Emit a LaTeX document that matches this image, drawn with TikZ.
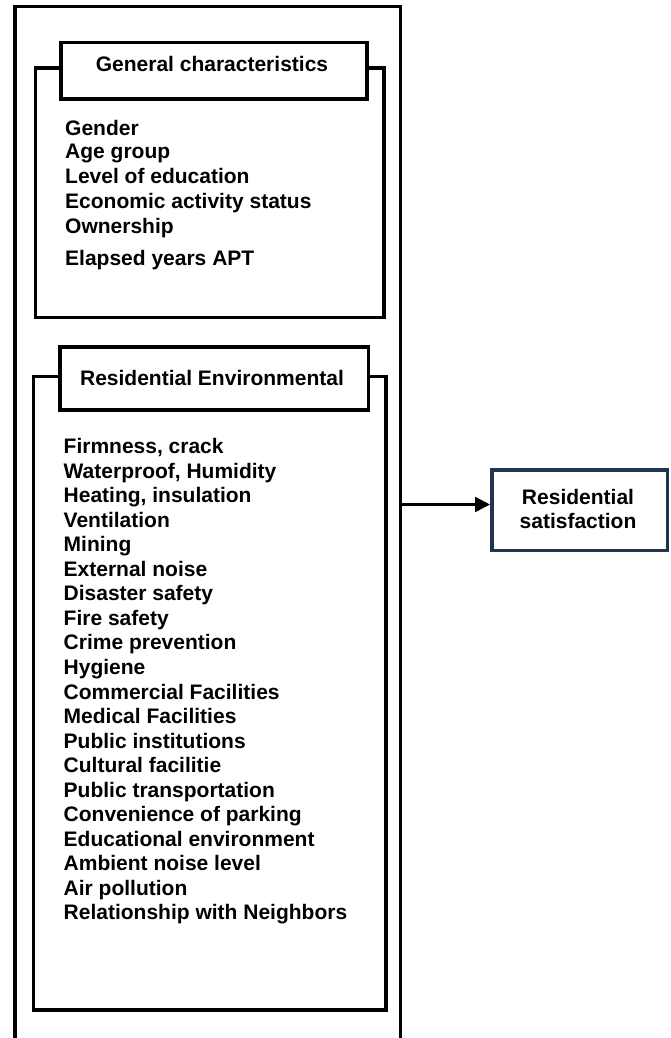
\documentclass[tikz,border=0pt]{standalone}
\usepackage{fontspec}
\setmainfont{Liberation Sans}
\usetikzlibrary{arrows.meta}
\definecolor{navy}{HTML}{1F3550}
\tikzset{
  frame/.style={draw=black, line width=3.5bp},
  titlebox/.style={frame, fill=white, rectangle, inner sep=0pt},
  txt/.style={anchor=base, inner sep=0pt, font=\fontsize{21bp}{24bp}\selectfont\bfseries},
  item/.style={txt, anchor=base west},
  outbox/.style={draw=navy, line width=3.5bp, rectangle, inner sep=0pt, fill=white},
  conn/.style={draw=black, line width=2.5bp, -{Triangle[length=15bp,width=15bp]}}
}
\begin{document}
\begin{tikzpicture}[x=1bp,y=-1bp]
\useasboundingbox (0,0) rectangle (671,1038);
% outer frame (open at bottom)
\draw[frame] (15,1040) -- (15,6.5) -- (400.5,6.5) -- (400.5,1040);
\coordinate (outR) at (400.5,504.5);

% group 1
\node[frame, rectangle, inner sep=0pt, minimum width=348.5bp, minimum height=249.5bp, anchor=north west] (g1) at (33.5,66) {};
\node[titlebox, minimum width=306bp, minimum height=56.5bp, anchor=north west] (t1) at (59,40.5) {};
\node[txt] (t1txt) at (212,71) {General characteristics};
\foreach \t/\y [count=\i] in {Gender/135, Age group/158.5, Level of education/183, Economic activity status/208, Ownership/233, Elapsed years APT/265}
  \node[item] (a\i) at (65,\y) {\t};

% group 2
\node[frame, rectangle, inner sep=0pt, minimum width=352.5bp, minimum height=633.5bp, anchor=north west] (g2) at (31.5,374.5) {};
\node[titlebox, minimum width=308.5bp, minimum height=63bp, anchor=north west] (t2) at (58,345) {};
\node[txt] (t2txt) at (212,385) {Residential Environmental};
\foreach \t [count=\i] in {{Firmness, crack}, {Waterproof, Humidity}, {Heating, insulation}, Ventilation, Mining, External noise, Disaster safety, Fire safety, Crime prevention, Hygiene, Commercial Facilities, Medical Facilities, Public institutions, Cultural facilitie, Public transportation, Convenience of parking, Educational environment, Ambient noise level, Air pollution, Relationship with Neighbors}
  \node[item] (b\i) at ({63.5},{453.5+(\i-1)*24.55}) {\t};

% outcome
\node[outbox, minimum width=175.5bp, minimum height=80.5bp, anchor=north west] (sat) at (490,468) {};
\node[txt] (s1) at (578,504) {Residential};
\node[txt] (s2) at (578,528) {satisfaction};

\draw[conn] (outR) -- (outR -| sat.west);
\end{tikzpicture}
\end{document}
